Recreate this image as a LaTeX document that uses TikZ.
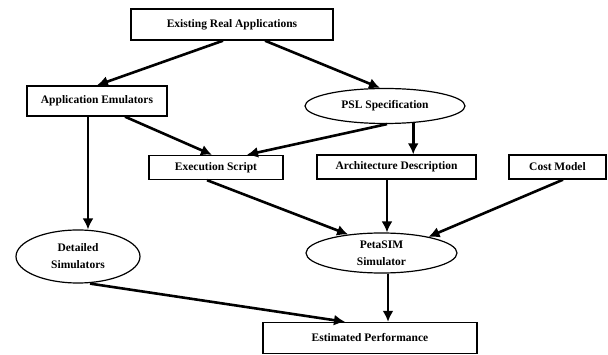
\documentclass[tikz,border=0pt]{standalone}
\usepackage{fontspec}
\setmainfont{Liberation Serif}
\usetikzlibrary{arrows.meta,shapes.geometric}
\begin{document}
\begin{tikzpicture}[x=1pt,y=-1pt,
  txt/.style={font=\fontsize{11.5}{17}\selectfont\bfseries},
  box/.style={txt, draw, rectangle, line width=1.4pt, inner sep=0pt},
  ell/.style={txt, draw, ellipse, line width=1.2pt, inner sep=-4pt, align=center},
  arr/.style={line width=2.6pt, -{Latex[length=11pt,width=11pt]}}]
\useasboundingbox (0,0) rectangle (608,355);

\node[box, minimum width=202pt, minimum height=31pt] (era) at (232,24.5) {Existing Real Applications};
\node[box, minimum width=140pt, minimum height=30pt] (ae) at (97,101) {Application Emulators};
\node[ell, minimum width=160pt, minimum height=35pt] (psl) at (385,106) {PSL Specification};
\node[box, minimum width=134pt, minimum height=24pt] (es) at (216,167.5) {Execution Script};
\node[box, minimum width=159pt, minimum height=24pt] (ad) at (396.5,167) {Architecture Description};
\node[box, minimum width=97pt, minimum height=24pt] (cm) at (557.5,167) {Cost Model};
\node[ell, minimum width=124pt, minimum height=53pt] (ds) at (78,256.5) {Detailed\\Simulators};
\node[ell, minimum width=151pt, minimum height=40pt] (ps) at (381.5,253) {PetaSIM\\Simulator};
\node[box, minimum width=214pt, minimum height=31pt] (ep) at (370,338) {Estimated Performance};

\draw[arr] ([xshift=-9pt]era.south) -- (ae.north);
\draw[arr] ([xshift=33pt]era.south) -- ([xshift=-5pt]psl.north);
\draw[arr] ([xshift=28pt]ae.south) -- ([xshift=-4pt]es.north);
\draw[arr] ([xshift=2pt]psl.south) -- ([xshift=31pt]es.north);
\draw[arr] (psl.-31.4) -- (psl.-31.4 |- ad.north);
\draw[arr] ([xshift=-9pt]ae.south) -- ([xshift=-9pt]ae.south |- ds.north);
\draw[arr] ([xshift=-9pt]es.south) -- (ps.151);
\draw[arr] ([xshift=-9.5pt]ad.south) -- ([xshift=-9.5pt]ad.south |- ps.north);
\draw[arr] ([xshift=5.5pt]cm.south) -- (ps.19);
\draw[arr] ([xshift=12pt]ds.south) -- ([xshift=-25pt]ep.north);
\draw[arr] ([xshift=6.5pt]ps.south) -- ([xshift=6.5pt]ps.south |- ep.north);
\end{tikzpicture}
\end{document}
